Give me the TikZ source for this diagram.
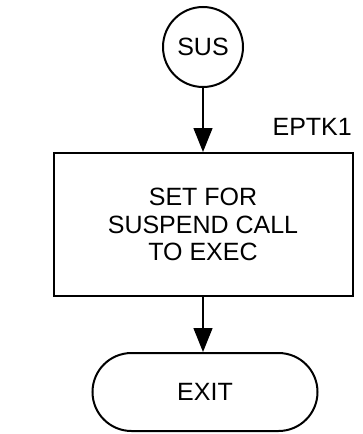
\documentclass[tikz,border=0pt]{standalone}
\usepackage{fontspec}
\setmainfont{Liberation Sans}
\usetikzlibrary{arrows.meta}
\tikzset{
  chartbox/.style={draw=black, line width=2pt, inner sep=0pt, align=center,
    font=\fontsize{25}{27.5}\selectfont},
  flow/.style={draw=black, line width=1.3pt, -{Triangle[width=19pt,length=24pt]}},
  lbl/.style={inner sep=0pt, font=\fontsize{25}{27.5}\selectfont}
}
\begin{document}
\begin{tikzpicture}[x=1pt,y=-1pt]
  \fill[white] (0,0) rectangle (362,434);
  \useasboundingbox (0,0) rectangle (362,434);
  \node[chartbox, circle, minimum size=80pt] (sus) at (203,47) {SUS};
  \node[chartbox, rectangle, minimum width=299pt, minimum height=143pt] (box) at (203,224.5)
    {SET FOR\\SUSPEND CALL\\TO EXEC};
  \node[chartbox, rectangle, rounded corners=39pt, minimum width=225pt, minimum height=78pt] (exit) at (205,392) {EXIT};
  \node[lbl, anchor=base east] (eptk) at (352,135) {EPTK1};
  \draw[flow] (sus.south) -- (box.north);
  \draw[flow] (box.south) -- (box.south |- exit.north);
\end{tikzpicture}
\end{document}
